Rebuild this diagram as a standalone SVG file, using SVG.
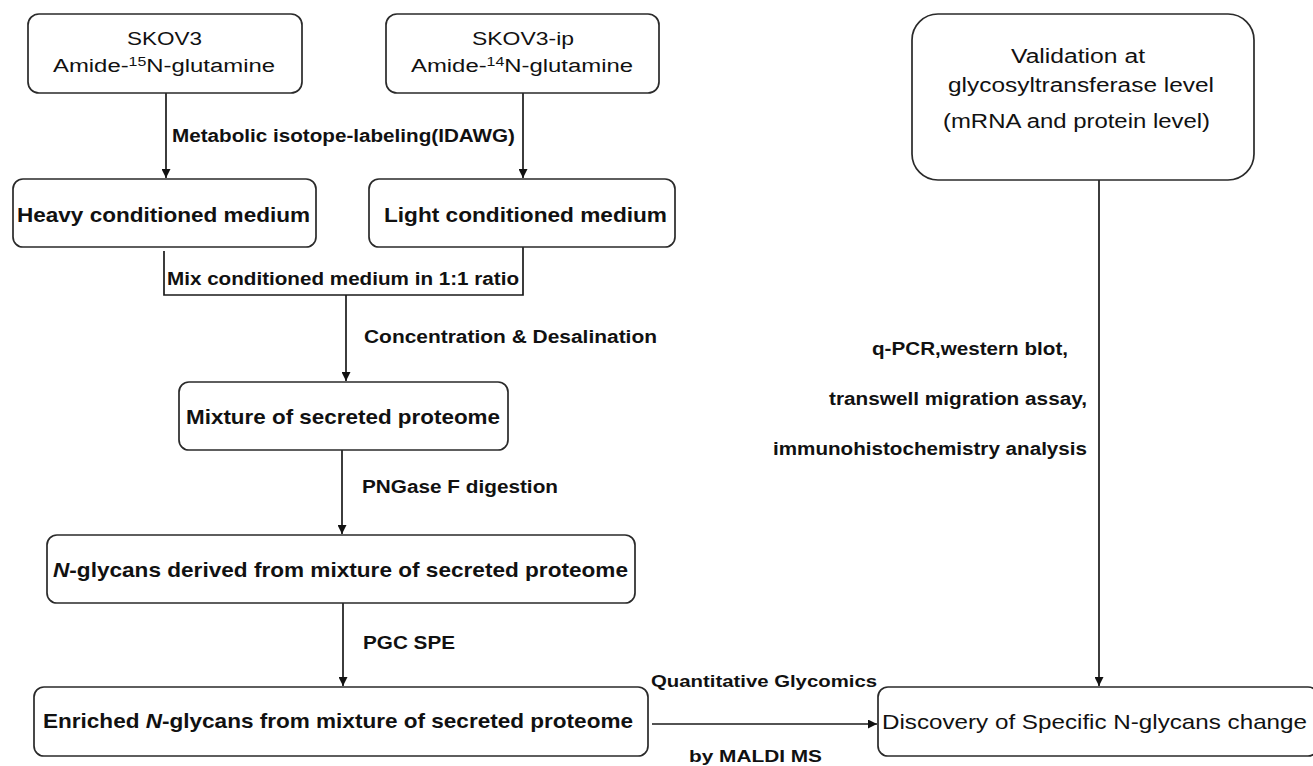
<svg xmlns="http://www.w3.org/2000/svg" width="1313" height="766" viewBox="0 0 1313 766">
<defs>
<style>
.box{fill:#fff;stroke:#2a2a2a;stroke-width:1.7}
.ln{fill:none;stroke:#1a1a1a;stroke-width:1.7}
text{font-family:"Liberation Sans",Arial,sans-serif;fill:#111}
.b{font-weight:bold}
.r{font-weight:normal}
.sup{font-size:12px}
</style>
<marker id="ah" viewBox="0 0 10 10" refX="10" refY="5" markerWidth="9" markerHeight="9" markerUnits="userSpaceOnUse" orient="auto">
<path d="M0,0 L10,5 L0,10 z" fill="#111"/>
</marker>
</defs>
<rect width="1313" height="766" fill="#fff"/>

<g id="connectors">
<line class="ln" x1="166" y1="93" x2="166" y2="178" marker-end="url(#ah)"/>
<line class="ln" x1="523" y1="93" x2="523" y2="178" marker-end="url(#ah)"/>
<path class="ln" d="M164,251 V295 H523 V247"/>
<line class="ln" x1="346" y1="295" x2="346" y2="381" marker-end="url(#ah)"/>
<line class="ln" x1="342" y1="450" x2="342" y2="534" marker-end="url(#ah)"/>
<line class="ln" x1="343" y1="603" x2="343" y2="686" marker-end="url(#ah)"/>
<line class="ln" x1="652" y1="724" x2="877" y2="724" marker-end="url(#ah)"/>
<line class="ln" x1="1099" y1="180" x2="1099" y2="686" marker-end="url(#ah)"/>
<text class="b" x="172" y="142" font-size="18" textLength="343" lengthAdjust="spacingAndGlyphs">Metabolic isotope-labeling(IDAWG)</text>
<text class="b" x="167" y="285" font-size="18" textLength="352" lengthAdjust="spacingAndGlyphs">Mix conditioned medium in 1:1 ratio</text>
<text class="b" x="364" y="343" font-size="18" textLength="293" lengthAdjust="spacingAndGlyphs">Concentration &amp; Desalination</text>
<text class="b" x="362" y="493" font-size="18" textLength="196" lengthAdjust="spacingAndGlyphs">PNGase F digestion</text>
<text class="b" x="363" y="649" font-size="19" textLength="92" lengthAdjust="spacingAndGlyphs">PGC SPE</text>
<text class="b" x="651" y="687" font-size="17" textLength="226" lengthAdjust="spacingAndGlyphs">Quantitative Glycomics</text>
<text class="b" x="689" y="762" font-size="17" textLength="133" lengthAdjust="spacingAndGlyphs">by MALDI MS</text>
<text class="b" x="872" y="355" font-size="18" textLength="196" lengthAdjust="spacingAndGlyphs">q-PCR,western blot,</text>
<text class="b" x="829" y="405" font-size="18" textLength="258" lengthAdjust="spacingAndGlyphs">transwell migration assay,</text>
<text class="b" x="773" y="455" font-size="18" textLength="314" lengthAdjust="spacingAndGlyphs">immunohistochemistry analysis</text>
</g>

<g id="skov3">
<rect class="box" x="28" y="14" width="274" height="79" rx="11"/>
<text class="r" x="127" y="45" font-size="18" textLength="75" lengthAdjust="spacingAndGlyphs">SKOV3</text>
<text class="r" x="53" y="72" font-size="18" textLength="222" lengthAdjust="spacingAndGlyphs">Amide-<tspan class="sup" dy="-6">15</tspan><tspan dy="6">N-glutamine</tspan></text>
</g>

<g id="skov3ip">
<rect class="box" x="386" y="14" width="273" height="79" rx="11"/>
<text class="r" x="472" y="45" font-size="18" textLength="102" lengthAdjust="spacingAndGlyphs">SKOV3-ip</text>
<text class="r" x="411" y="72" font-size="18" textLength="222" lengthAdjust="spacingAndGlyphs">Amide-<tspan class="sup" dy="-6">14</tspan><tspan dy="6">N-glutamine</tspan></text>
</g>

<g id="heavy">
<rect class="box" x="13" y="179" width="303" height="68" rx="10"/>
<text class="b" x="17" y="222" font-size="20" textLength="293" lengthAdjust="spacingAndGlyphs">Heavy conditioned medium</text>
</g>

<g id="light">
<rect class="box" x="369" y="179" width="306" height="68" rx="10"/>
<text class="b" x="384" y="222" font-size="20" textLength="283" lengthAdjust="spacingAndGlyphs">Light conditioned medium</text>
</g>

<g id="mixture">
<rect class="box" x="179" y="382" width="329" height="68" rx="10"/>
<text class="b" x="186" y="424" font-size="21" textLength="314" lengthAdjust="spacingAndGlyphs">Mixture of secreted proteome</text>
</g>

<g id="nglycans">
<rect class="box" x="47" y="535" width="588" height="68" rx="10"/>
<text class="b" x="53" y="577" font-size="20.5" textLength="575" lengthAdjust="spacingAndGlyphs"><tspan font-style="italic">N</tspan>-glycans derived from mixture of secreted proteome</text>
</g>

<g id="enriched">
<rect class="box" x="34" y="687" width="614" height="69" rx="10"/>
<text class="b" x="43" y="728" font-size="21" textLength="590" lengthAdjust="spacingAndGlyphs">Enriched <tspan font-style="italic">N</tspan>-glycans from mixture of secreted proteome</text>
</g>

<g id="validation">
<rect class="box" x="912" y="14" width="342" height="166" rx="26"/>
<text class="r" x="1011" y="63" font-size="19.5" textLength="134" lengthAdjust="spacingAndGlyphs">Validation at</text>
<text class="r" x="948" y="92" font-size="19.5" textLength="266" lengthAdjust="spacingAndGlyphs">glycosyltransferase level</text>
<text class="r" x="943" y="128" font-size="19.5" textLength="267" lengthAdjust="spacingAndGlyphs">(mRNA and protein level)</text>
</g>

<g id="discovery">
<rect class="box" x="878" y="687" width="440" height="69" rx="10"/>
<text class="r" x="882" y="729" font-size="21" textLength="425" lengthAdjust="spacingAndGlyphs">Discovery of Specific N-glycans change</text>
</g>
</svg>
